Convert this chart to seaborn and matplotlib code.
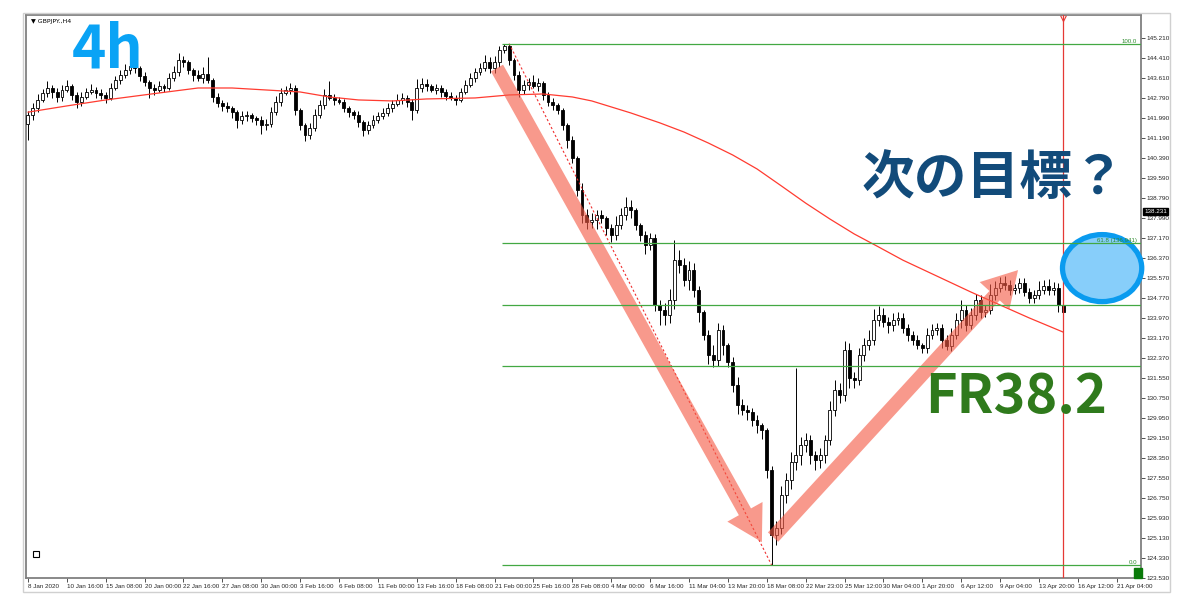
import numpy as np
import matplotlib
matplotlib.use("Agg")
import matplotlib.pyplot as plt
import seaborn as sns
from matplotlib.patches import Ellipse, Rectangle, FancyArrowPatch

# GBPJPY H4, one candle per two 4h bars, prices
first_open = 141.75
closes = [
    142.10, 142.38, 142.71, 142.99, 143.19, 143.03, 142.83, 143.11, 143.27, 142.91,
    142.63, 142.83, 143.03, 143.11, 142.99, 142.91, 142.79, 143.19, 143.51, 143.71,
    143.91, 144.07, 143.99, 143.67, 143.43, 143.19, 143.11, 143.27, 143.19, 143.59,
    143.83, 144.31, 144.23, 143.91, 143.71, 143.59, 143.75, 143.51, 142.83, 142.59,
    142.46, 142.38, 142.22, 141.90, 142.06, 142.10, 141.98, 141.90, 141.70, 141.74,
    142.22, 142.63, 142.99, 143.11, 143.19, 142.30, 141.70, 141.30, 141.58, 142.10,
    142.50, 142.91, 142.79, 142.71, 142.63, 142.38, 142.22, 142.10, 141.82, 141.50,
    141.70, 141.90, 142.06, 142.18, 142.38, 142.55, 142.71, 142.79, 142.63, 142.30,
    143.19, 143.35, 143.27, 143.11, 143.19, 143.03, 142.87, 142.79, 142.71, 143.03,
    143.31, 143.59, 143.83, 143.99, 144.23, 143.99, 144.23, 144.71, 144.87, 144.31,
    143.71, 143.11, 143.31, 143.43, 143.27, 143.39, 142.91, 142.63, 142.50, 142.30,
    141.70, 141.10, 140.38, 139.09, 138.09, 137.81, 137.89, 138.09, 137.97, 137.57,
    137.29, 137.69, 138.09, 138.41, 138.29, 137.69, 137.29, 136.88, 137.16, 134.48,
    134.27, 134.07, 134.68, 136.28, 136.08, 135.48, 135.88, 135.08, 134.19, 133.27,
    132.47, 132.27, 133.47, 132.87, 132.19, 131.27, 130.46, 130.26, 130.18, 129.86,
    129.66, 129.46, 127.85, 125.24, 125.52, 126.85, 127.45, 128.17, 128.45, 128.86,
    129.06, 128.45, 128.25, 128.45, 129.06, 130.26, 131.06, 130.86, 132.67, 131.54,
    131.46, 132.47, 132.87, 133.07, 133.87, 134.07, 133.79, 133.67, 133.87, 133.95,
    133.55, 133.27, 133.07, 132.87, 132.75, 133.27, 133.47, 133.55, 133.07, 132.83,
    133.27, 133.87, 134.27, 133.67, 134.07, 134.68, 134.19, 134.27, 134.88, 135.16,
    135.36, 135.28, 135.08, 135.16, 135.36, 135.00, 134.76, 134.88, 135.08, 135.24,
    135.08, 135.16, 134.48, 134.19,
]
# wick above max(open, close) and below min(open, close)
wick_up = [
    .15, .2, .25, .15, .3, .1, .15, .2, .25, .1,
    .1, .2, .15, .25, .1, .15, .1, .2, .15, .2,
    .25, .2, .3, .1, .15, .1, .15, .2, .1, .2,
    .25, .3, .15, .1, .1, .2, .3, .68, .1, .15,
    .1, .15, .1, .1, .2, .15, .1, .1, .15, .2,
    .2, .25, .2, .15, .2, .1, .1, .1, .2, .25,
    .2, .25, .55, .15, .1, .1, .1, .1, .15, .1,
    .15, .2, .15, .2, .2, .15, .25, .2, .1, .1,
    .35, .25, .2, .1, .15, .1, .1, .15, .1, .15,
    .2, .2, .15, .2, .3, .2, .25, .15, .08, .1,
    .1, .15, .2, .15, .3, .2, .1, .1, .15, .1,
    .1, .1, .15, .1, .3, .25, .3, .2, .2, .1,
    .15, .35, .3, .4, .3, .1, .1, .15, .2, .15,
    .2, .3, .45, .8, .4, .3, .35, .3, .15, .1,
    .2, .4, .3, .2, .1, .2, .3, .25, .2, .15,
    .2, .1, .1, .15, .3, .35, .3, .4, 3.5, .3,
    .3, .2, .15, .3, .2, .35, .4, .3, .35, .3,
    .25, .3, .3, .4, .45, .35, .3, .2, .3, .25,
    .2, .15, .15, .2, .1, .3, .25, .2, .15, .2,
    .3, .3, .4, .2, .3, .25, .2, .2, .45, .3,
    .25, .3, .2, .15, .2, .2, .15, .2, .35, .25,
    .3, .25, .2, .3,
]
wick_dn = [
    .65, .2, .15, .1, .15, .25, .2, .15, .1, .2,
    .25, .15, .1, .1, .2, .15, .2, .1, .1, .15,
    .1, .15, .2, .2, .15, .4, .2, .1, .15, .1,
    .1, .15, .2, .15, .25, .1, .2, .1, .2, .15,
    .2, .15, .25, .3, .15, .2, .15, .2, .35, .2,
    .1, .1, .15, .1, .15, .2, .2, .25, .15, .1,
    .1, .15, .1, .2, .1, .15, .2, .15, .2, .25,
    .15, .1, .1, .1, .1, .15, .1, .15, .2, .4,
    .1, .15, .2, .1, .15, .2, .15, .1, .2, .1,
    .1, .1, .15, .1, .1, .2, .2, .2, .1, .2,
    .2, .3, .15, .2, .1, .2, .2, .15, .2, .15,
    .2, .3, .2, .25, .3, .3, .25, .35, .2, .3,
    .3, .2, .15, .2, .3, .2, .25, .35, .2, .25,
    .6, .4, .3, .35, .3, .25, .4, .3, .4, .2,
    .35, .3, .25, .4, .2, .3, .35, .2, .3, .25,
    .3, .35, .3, 1.2, .4, .25, .3, .35, .3, .4,
    .3, .35, .4, .3, .3, .2, .25, .3, .25, .4,
    .3, .2, .25, .2, .2, .25, .2, .3, .25, .2,
    .2, .25, .2, .15, .2, .2, .15, .2, .3, .15,
    .2, .15, .3, .25, .15, .2, .25, .2, .15, .2,
    .15, .2, .2, .15, .2, .15, .2, .2, .15, .15,
    .2, .2, .3, .35,
]

# moving average (red line), read at candle positions
ma_idx = [0, 8, 16, 27, 35, 42, 49, 56, 62, 68, 75, 82, 92, 99, 106, 112, 116, 120, 124, 130,
          135, 140, 145, 150, 155, 160, 165, 170, 175, 180, 187, 194, 200, 206, 213]
ma_val = [142.22, 142.47, 142.71, 142.99, 143.19, 143.19, 143.11, 143.03, 142.83, 142.71,
          142.67, 142.75, 142.79, 142.91, 142.95, 142.83, 142.67, 142.43, 142.19, 141.79,
          141.42, 140.98, 140.50, 139.94, 139.26, 138.57, 137.93, 137.33, 136.81, 136.28,
          135.64, 135.00, 134.48, 133.96, 133.39]

# fibonacci retracement
fib_high = 144.95
fib_low = 124.04
fib_start = 97.5
fib_levels = [0.0, 0.382, 0.5, 0.618, 1.0]

x_labels = ['8 Jan 2020', '10 Jan 16:00', '15 Jan 08:00', '20 Jan 00:00', '22 Jan 16:00', '27 Jan 08:00',
            '30 Jan 00:00', '3 Feb 16:00', '6 Feb 08:00', '11 Feb 00:00', '13 Feb 16:00', '18 Feb 08:00',
            '21 Feb 00:00', '25 Feb 16:00', '28 Feb 08:00', '4 Mar 00:00', '6 Mar 16:00', '11 Mar 04:00',
            '13 Mar 20:00', '18 Mar 08:00', '22 Mar 23:00', '25 Mar 12:00', '30 Mar 04:00', '1 Apr 20:00',
            '6 Apr 12:00', '9 Apr 04:00', '13 Apr 20:00', '16 Apr 12:00', '21 Apr 04:00']
y_ticks = [145.210, 144.410, 143.610, 142.790, 141.990, 141.190, 140.390, 139.590, 138.790, 137.990,
           137.170, 136.370, 135.570, 134.770, 133.970, 133.170, 132.370, 131.550, 130.750, 129.950,
           129.150, 128.350, 127.550, 126.750, 125.930, 125.130, 124.330, 123.530]
last_price = 138.231

assert len(closes) == len(wick_up) == len(wick_dn)

sns.set_theme(style="white")
plt.rcParams['font.family'] = ['DejaVu Sans']
small = ['Liberation Sans Narrow', 'Liberation Sans', 'DejaVu Sans']

fig = plt.figure(figsize=(12, 6.12), dpi=100)
W, H = 1200, 612
ax = fig.add_axes([26 / W, 1 - 578 / H, (1141 - 26) / W, (578 - 15) / H])

c = np.array(closes)
o = np.array([first_open] + closes[:-1])
x = np.arange(len(c))
hi = np.maximum(o, c) + np.array(wick_up)
lo = np.minimum(o, c) - np.array(wick_dn)
bull = c >= o

ax.vlines(x, lo, hi, color='black', lw=0.7, zorder=2)
ax.bar(x[bull], (c - o)[bull], bottom=o[bull], width=0.6, color='white', edgecolor='black', lw=0.6, zorder=3)
ax.bar(x[~bull], (o - c)[~bull], bottom=c[~bull], width=0.6, color='black', edgecolor='black', lw=0.6, zorder=3)

sns.lineplot(x=ma_idx, y=ma_val, ax=ax, color='#FF3B30', lw=0.9, zorder=4)

xmax = 229.0
fib_green = '#43A843'
for lv in fib_levels:
    ax.hlines(fib_low + lv * (fib_high - fib_low), fib_start, xmax, color=fib_green, lw=0.9, zorder=7)
fs = 4.4
lab_kw = dict(ha='right', va='bottom', fontsize=fs, color='#2E8B2E', family=small, zorder=8)
ax.text(xmax - 0.8, fib_high, '100.0', **lab_kw)
ax.text(xmax - 0.8, fib_low + 0.618 * (fib_high - fib_low), '61.8 (136.941)', **lab_kw)
ax.text(xmax - 0.8, fib_low, '0.0', **lab_kw)

# fibo trend line (dotted) from high candle to low candle
i_hi = int(np.argmax(hi))
i_lo = int(np.argmin(lo))
ax.plot([i_hi, i_lo], [hi[i_hi], lo[i_lo]], color='#F03030', lw=0.8, ls=(0, (2, 2)), zorder=4)

# vertical line at last candle
ax.axvline(x[-1], color='#E53935', lw=0.9, zorder=4)
ax.plot([x[-1]], [0.995], transform=ax.get_xaxis_transform(), marker='v', ms=4, mfc='white',
        mec='#E53935', mew=0.8, clip_on=False)

# big salmon arrows
arrow_down = ((96.5, 143.99), (151.0, 124.96))
arrow_up = ((153.3, 125.16), (203.7, 135.88))
for a, b in (arrow_down, arrow_up):
    ax.add_patch(FancyArrowPatch(a, b, arrowstyle='simple,head_length=2.5,head_width=2.9,tail_width=1.0',
                                 mutation_scale=10, color='#F55A45', alpha=0.62, lw=0,
                                 shrinkA=0, shrinkB=0, zorder=5))

# target ellipse
ax.add_patch(Ellipse((221.0, 135.96), 16.3, 2.69, fc='#87CEFA', ec='#0A9BEF', lw=3.8,
                     clip_on=False, zorder=6))

ax.set_xlim(-0.4, xmax)
ax.set_ylim(123.52, 146.12)

ax.yaxis.tick_right()
ax.set_yticks(y_ticks)
ax.set_yticklabels([f'{v:.3f}' for v in y_ticks], fontsize=4.6, family=small)
ax.set_xticks(np.arange(len(x_labels)) * 8)
ax.set_xticklabels(x_labels, fontsize=4.5, ha='left', family=small)
ax.tick_params(axis='both', length=3, width=0.6, color='#333333', pad=1.2, direction='out')
ax.tick_params(axis='x', bottom=True)
ax.tick_params(axis='y', right=True)
for sp in ax.spines.values():
    sp.set_color('#808080')
    sp.set_linewidth(1.3)

ax.text(1.003, last_price, f'{last_price:.3f}', transform=ax.get_yaxis_transform(), fontsize=4.5,
        color='white', va='center', ha='left', family=small,
        bbox=dict(boxstyle='square,pad=0.15', fc='black', ec='black'), zorder=9, clip_on=False)

# window frame and small MT4 objects
fig.patches.append(Rectangle((23 / W, 1 - 592 / H), (1170 - 23) / W, (592 - 13) / H, fill=False,
                             ec='#D0D0D0', lw=1, transform=fig.transFigure))
fig.patches.append(Rectangle((1134 / W, 1 - 578 / H), 8 / W, 10 / H, fc='#0A7A0A', ec='#0A7A0A',
                             transform=fig.transFigure, zorder=8))
fig.patches.append(Rectangle((33 / W, 1 - 557 / H), 6 / W, 6 / H, fill=False, ec='black', lw=0.8,
                             transform=fig.transFigure))

fig.text(31 / W, 1 - 22 / H, '\u25bc GBPJPY.,H4', fontsize=4.5, color='black', va='center')

jp = ['Noto Sans CJK JP', 'DejaVu Sans']
fig.text(72 / W, 1 - 67 / H, '4h', fontsize=42, fontweight='bold', color='#0AA3F5', family=jp,
         va='baseline')
fig.text(862 / W, 1 - 178 / H, '次の目標？', fontsize=38, fontweight='bold', color='#124B7A',
         family=jp, va='center')
fig.text(925 / W, 1 - 413 / H, 'FR38.2', fontsize=39, fontweight='bold', color='#2F7A1C',
         family=jp, va='baseline')

fig.savefig('out.png', dpi=100)
